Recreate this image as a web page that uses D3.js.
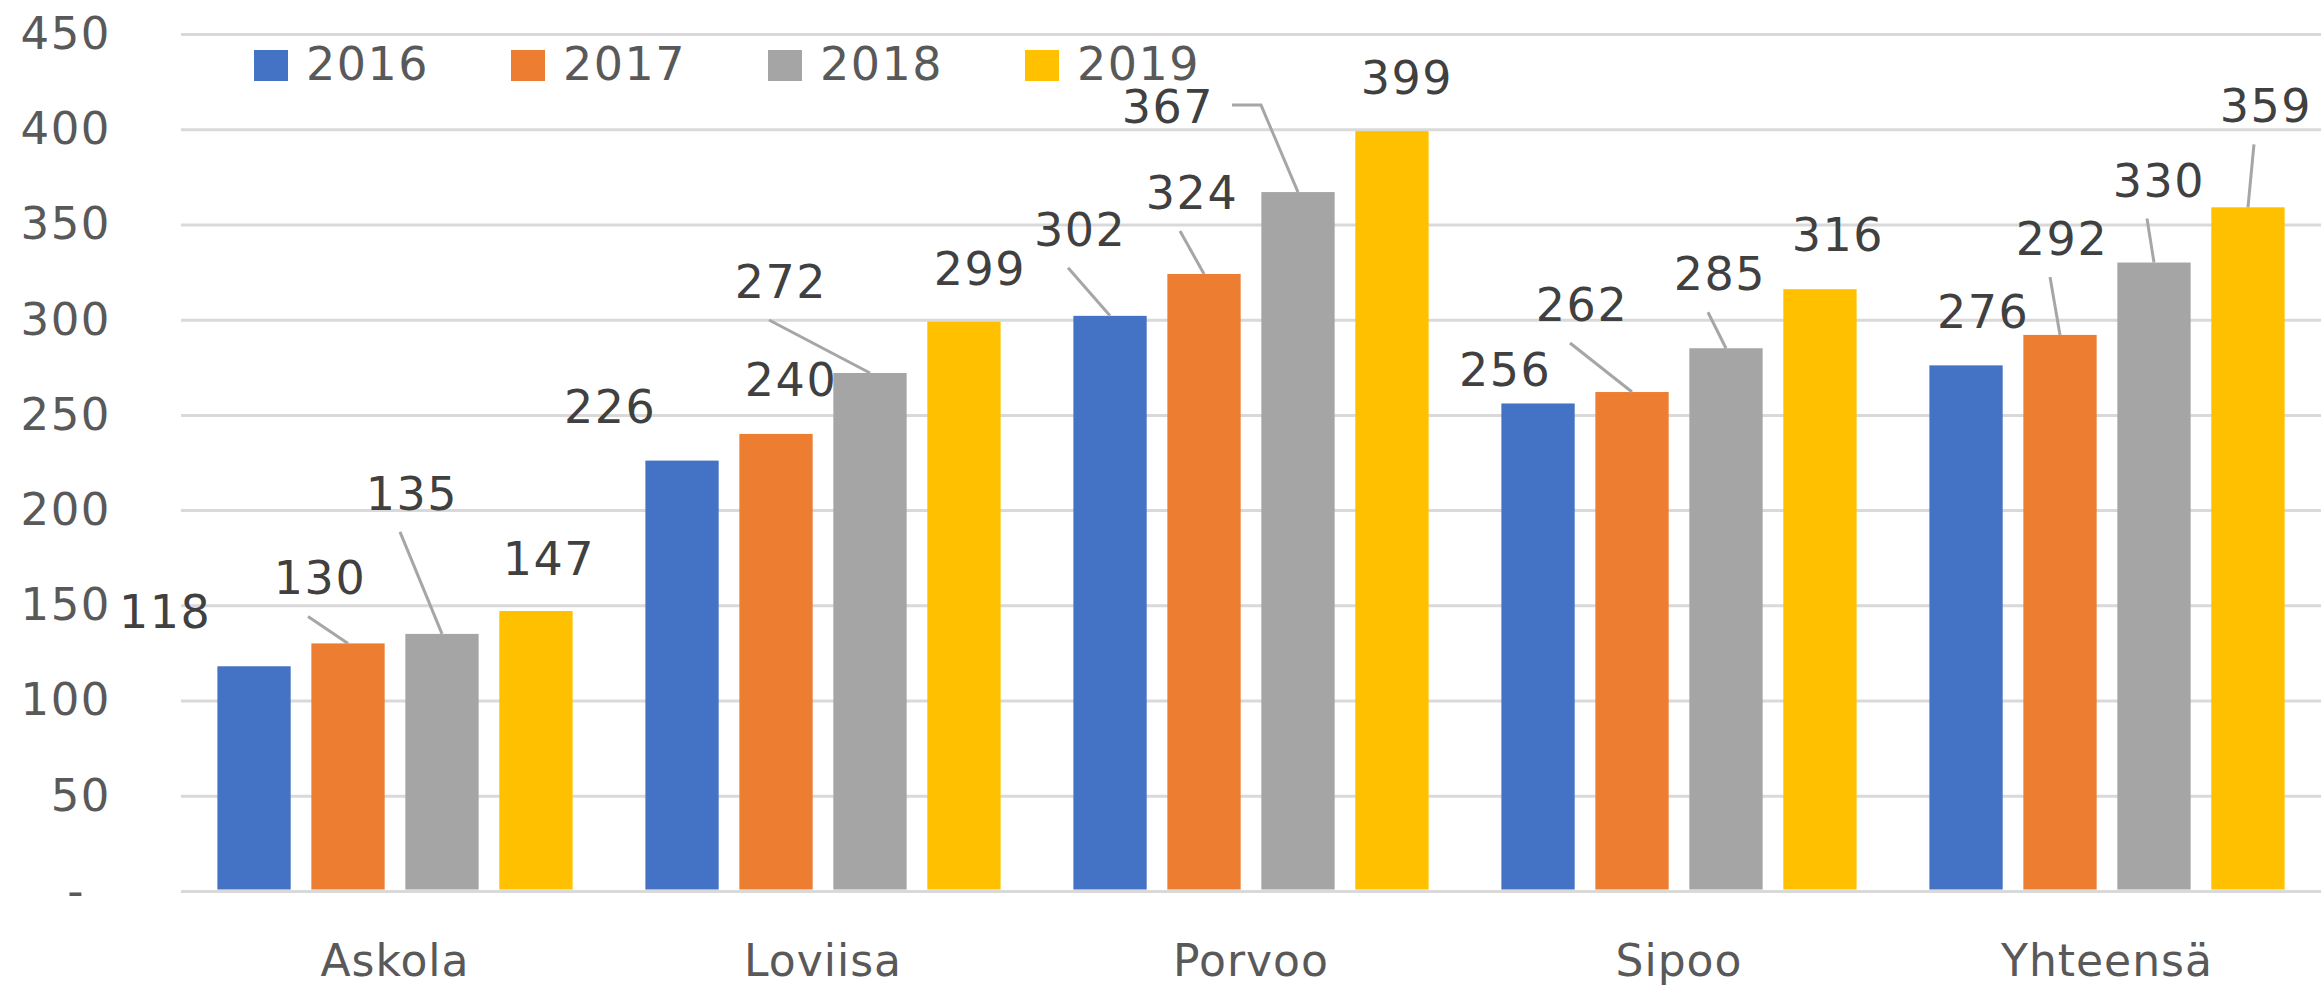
<!DOCTYPE html>
<html>
<head>
<meta charset="utf-8">
<script src="https://cdn.jsdelivr.net/npm/d3@7"></script>
<style>
  html, body { margin: 0; padding: 0; background: #fff; }
  svg { display: block; font-family: "DejaVu Sans", sans-serif; }
</style>
</head>
<body>
<div id="chart"></div>
<script>
// data
const categories = ["Askola", "Loviisa", "Porvoo", "Sipoo", "Yhteensä"];
const years = ["2016", "2017", "2018", "2019"];
const v2016 = [118, 226, 302, 256, 276];
const v2017 = [130, 240, 324, 262, 292];
const v2018 = [135, 272, 367, 285, 330];
const v2019 = [147, 299, 399, 316, 359];
const yTicks = [0, 50, 100, 150, 200, 250, 300, 350, 400, 450];
const colors = ["#4472C4", "#ED7D31", "#A5A5A5", "#FFC000"];

// label placement (pixel nudges from bar top, leader: 0 none, 1 below, 2 side)
const labelNudge = [
  [[-89, -38, 0], [-28, -49, 1], [-30, -124, 1], [13, -36, 0]],
  [[-72, -38, 0], [15, -38, 0], [-89, -75, 1], [16, -37, 0]],
  [[-30, -70, 1], [-12, -65, 1], [-130, -69, 2], [15, -37, 0]],
  [[-33, -17, 0], [-50, -71, 1], [-6, -58, 1], [18, -38, 0]],
  [[17, -37, 0], [2, -80, 1], [5, -66, 1], [18, -85, 1]]
];

const series = [v2016, v2017, v2018, v2019];
const W = 2321, H = 986;
const mLeft = 181, mRight = 2321, mTop = 34, mBottom = 891;

const svg = d3.select("#chart").append("svg")
  .attr("width", W)
  .attr("height", H);

const x0 = d3.scaleBand()
  .domain(categories)
  .range([mLeft, mRight])
  .paddingInner(0.17)
  .paddingOuter(0.085);

const x1 = d3.scaleBand()
  .domain(years)
  .range([0, x0.bandwidth()])
  .paddingInner(0.22);

const y = d3.scaleLinear()
  .domain([0, 450])
  .range([mBottom, mTop]);

// y axis with gridlines
const yAxis = svg.append("g")
  .attr("transform", `translate(${mLeft},0)`)
  .call(d3.axisLeft(y)
    .tickValues(yTicks)
    .tickSize(-(mRight - mLeft))
    .tickPadding(70)
    .tickFormat(d => d === 0 ? "-" : d));
yAxis.select(".domain").remove();
yAxis.selectAll(".tick line")
  .attr("stroke", "#d9d9d9")
  .attr("stroke-width", 3);
yAxis.selectAll(".tick text")
  .attr("fill", "#595959")
  .attr("font-size", 45)
  .attr("letter-spacing", 1.5)
  .attr("font-family", "DejaVu Sans, sans-serif")
  .attr("dx", d => d === 0 ? -26 : 0);

// x axis
const xAxis = svg.append("g")
  .attr("transform", `translate(0,${mBottom})`)
  .call(d3.axisBottom(x0).tickSize(0).tickPadding(54));
xAxis.select(".domain").remove();
xAxis.selectAll(".tick text")
  .attr("fill", "#595959")
  .attr("font-size", 44)
  .attr("letter-spacing", 1)
  .attr("font-family", "DejaVu Sans, sans-serif");

// bars
const rows = categories.map((c, i) => ({
  cat: c,
  vals: years.map((yr, j) => ({ yr, j, i, v: series[j][i] }))
}));

const groups = svg.append("g").selectAll("g")
  .data(rows)
  .enter()
  .append("g")
  .attr("transform", d => `translate(${x0(d.cat)},0)`);

groups.selectAll("rect")
  .data(d => d.vals)
  .enter()
  .append("rect")
  .attr("x", d => x1(d.yr))
  .attr("y", d => y(d.v))
  .attr("width", x1.bandwidth())
  .attr("height", d => mBottom - y(d.v) - 1.5)
  .attr("fill", d => colors[d.j]);

// data labels and leader lines
const labels = svg.append("g");
rows.forEach(r => {
  r.vals.forEach(d => {
    const bx = x0(r.cat) + x1(d.yr) + x1.bandwidth() / 2;
    const by = y(d.v);
    const [dx, dy, kind] = labelNudge[d.i][d.j];
    const lx = bx + dx, ly = by + dy;
    if (kind === 1) {
      labels.append("path")
        .attr("d", d3.line()([[lx - 12, ly + 22], [bx, by]]))
        .attr("fill", "none")
        .attr("stroke", "#a6a6a6")
        .attr("stroke-width", 3);
    } else if (kind === 2) {
      labels.append("path")
        .attr("d", d3.line()([[lx + 64, ly - 18], [lx + 93, ly - 18], [bx, by]]))
        .attr("fill", "none")
        .attr("stroke", "#a6a6a6")
        .attr("stroke-width", 3);
    }
    labels.append("text")
      .attr("x", lx)
      .attr("y", ly)
      .attr("text-anchor", "middle")
      .attr("fill", "#404040")
      .attr("font-size", 46)
      .attr("letter-spacing", 1.5)
      .text(d.v);
  });
});

// legend
const legend = svg.append("g").selectAll("g")
  .data(years)
  .enter()
  .append("g")
  .attr("transform", (d, i) => `translate(${254 + i * 257},0)`);
legend.append("rect")
  .attr("x", 0)
  .attr("y", 50)
  .attr("width", 34)
  .attr("height", 31)
  .attr("fill", (d, i) => colors[i]);
legend.append("text")
  .attr("x", 52)
  .attr("y", 80)
  .attr("fill", "#595959")
  .attr("font-size", 46)
  .attr("letter-spacing", 1.5)
  .text(d => d);
</script>
</body>
</html>
